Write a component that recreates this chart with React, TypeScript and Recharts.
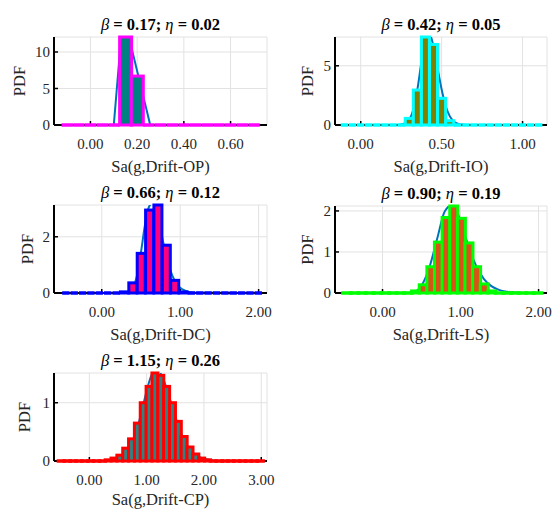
import React from 'react';
import { ComposedChart, Bar, Line, XAxis, YAxis, CartesianGrid } from 'recharts';

// bin centres (g) and histogram heights (PDF) for each demand parameter
const opBins = [-0.10, -0.05, 0.00, 0.05, 0.10, 0.15, 0.20, 0.25, 0.30, 0.35, 0.40, 0.45, 0.50, 0.55, 0.60, 0.65, 0.70];
const opHist = [0, 0, 0, 0, 0, 12.05, 6.7, 0, 0, 0, 0, 0, 0, 0, 0, 0, 0];
const opPdfX = [-0.12, 0.10, 0.14, 0.256, 0.72];
const opPdfY = [0, 0, 15.3, 0, 0];

const ioBins = [-0.10, -0.05, 0.00, 0.05, 0.10, 0.15, 0.20, 0.25, 0.30, 0.35, 0.40, 0.45, 0.50, 0.55, 0.60, 0.65, 0.70, 0.75, 0.80, 0.85, 0.90, 0.95, 1.00, 1.05, 1.10];
const ioHist = [0, 0, 0, 0, 0, 0, 0, 0, 0.56, 2.95, 7.43, 6.8, 2.25, 0.36, 0, 0, 0, 0, 0, 0, 0, 0, 0, 0, 0];
const ioPdfX = [-0.12, 0.22, 0.25, 0.275, 0.30, 0.325, 0.35, 0.375, 0.40, 0.425, 0.45, 0.475, 0.50, 0.525, 0.55, 0.575, 0.60, 0.625, 0.65, 1.12];
const ioPdfY = [0, 0, 0.05, 0.15, 0.45, 1.3, 3.0, 5.3, 7.2, 7.7, 6.6, 4.8, 3.0, 1.6, 0.75, 0.3, 0.12, 0.04, 0, 0];

const dcBins = [-0.456, -0.349, -0.242, -0.136, -0.029, 0.078, 0.185, 0.291, 0.398, 0.505, 0.612, 0.718, 0.825, 0.932, 1.038, 1.145, 1.252, 1.358, 1.465, 1.572, 1.678, 1.785, 1.892, 1.998];
const dcHist = [0, 0, 0, 0, 0, 0, 0, 0.04, 0.36, 1.41, 2.95, 3.13, 1.70, 0.45, 0.04, 0, 0, 0, 0, 0, 0, 0, 0, 0];
const dcPdfX = [-0.55, 0.25, 0.30, 0.35, 0.40, 0.45, 0.50, 0.55, 0.60, 0.65, 0.70, 0.75, 0.80, 0.85, 0.90, 0.95, 1.00, 1.05, 1.10, 1.20, 2.05];
const dcPdfY = [0, 0, 0.02, 0.06, 0.2, 0.62, 1.45, 2.4, 3.05, 3.2, 2.9, 2.25, 1.6, 1.02, 0.62, 0.35, 0.19, 0.1, 0.05, 0.01, 0];

const lsBins = [-0.459, -0.361, -0.263, -0.166, -0.068, 0.030, 0.128, 0.226, 0.323, 0.421, 0.519, 0.617, 0.714, 0.812, 0.910, 1.008, 1.105, 1.203, 1.301, 1.399, 1.497, 1.594, 1.692, 1.790, 1.888, 1.986];
const lsHist = [0, 0, 0, 0, 0, 0, 0, 0, 0, 0.05, 0.2, 0.64, 1.24, 1.84, 2.12, 1.82, 1.22, 0.64, 0.22, 0.05, 0, 0, 0, 0, 0, 0];
const lsPdfX = [-0.55, 0.30, 0.40, 0.50, 0.60, 0.70, 0.80, 0.90, 1.00, 1.10, 1.20, 1.30, 1.40, 1.50, 1.60, 1.70, 1.80, 2.05];
const lsPdfY = [0, 0, 0.02, 0.18, 0.62, 1.32, 2.0, 2.15, 1.75, 1.15, 0.66, 0.34, 0.16, 0.07, 0.03, 0.01, 0, 0];

const cpBins = [-0.489, -0.387, -0.285, -0.183, -0.081, 0.021, 0.123, 0.225, 0.327, 0.429, 0.531, 0.633, 0.735, 0.837, 0.939, 1.041, 1.143, 1.245, 1.347, 1.449, 1.551, 1.653, 1.755, 1.857, 1.959, 2.061, 2.163, 2.265, 2.367, 2.469, 2.571, 2.673, 2.775, 2.877, 2.979];
const cpHist = [0, 0, 0, 0, 0, 0, 0, 0, 0.02, 0.05, 0.10, 0.22, 0.38, 0.65, 1.0, 1.28, 1.51, 1.47, 1.28, 1.0, 0.68, 0.42, 0.24, 0.12, 0.05, 0.02, 0, 0, 0, 0, 0, 0, 0, 0, 0];
const cpPdfX = [-0.55, 0.20, 0.30, 0.40, 0.50, 0.60, 0.70, 0.80, 0.90, 1.00, 1.10, 1.20, 1.30, 1.40, 1.50, 1.60, 1.70, 1.80, 1.90, 2.00, 2.10, 2.20, 3.05];
const cpPdfY = [0, 0, 0.005, 0.02, 0.05, 0.11, 0.23, 0.45, 0.8, 1.2, 1.5, 1.55, 1.38, 1.08, 0.76, 0.48, 0.28, 0.15, 0.08, 0.04, 0.02, 0, 0];

const opTicks = [0, 0.2, 0.4, 0.6];
const ioTicks = [0, 0.5, 1];
const dcTicks = [0, 1, 2];
const lsTicks = [0, 1, 2];
const cpTicks = [0, 1, 2, 3];

const FONT = '"Liberation Serif", "Times New Roman", serif';
const PDF_BLUE = '#0072BD';

type Spec = {
  bins: number[]; hist: number[]; pdfX: number[]; pdfY: number[];
  xDomain: [number, number]; xTicks: number[]; yMax: number; yTicks: number[];
  fill: string; edge: string; dashed: boolean; curve: 'linear' | 'monotone';
  beta: string; eta: string; xLabel: string;
  left: number; top: number; w: number; h: number; mTop: number; mRight: number; yW: number;
  titleY: number; xLabelY: number; yLabelX: number;
};

const panels: Spec[] = [
  { bins: opBins, hist: opHist, pdfX: opPdfX, pdfY: opPdfY, xDomain: [-0.156, 0.756], xTicks: opTicks, yMax: 12.05, yTicks: [0, 5, 10],
    fill: '#008080', edge: '#ff00ff', dashed: true, curve: 'linear', beta: '0.17', eta: '0.02', xLabel: 'Sa(g,Drift-OP)',
    left: 0, top: 0, w: 276, h: 155, mTop: 37, mRight: 9, yW: 54, titleY: 30, xLabelY: 171.5, yLabelX: 19 },
  { bins: ioBins, hist: ioHist, pdfX: ioPdfX, pdfY: ioPdfY, xDomain: [-0.159, 1.151], xTicks: ioTicks, yMax: 7.43, yTicks: [0, 5],
    fill: '#808000', edge: '#00ffff', dashed: true, curve: 'monotone', beta: '0.42', eta: '0.05', xLabel: 'Sa(g,Drift-IO)',
    left: 276, top: 0, w: 276, h: 155, mTop: 37, mRight: 5, yW: 59, titleY: 30, xLabelY: 171.5, yLabelX: 307.7 },
  { bins: dcBins, hist: dcHist, pdfX: dcPdfX, pdfY: dcPdfY, xDomain: [-0.609, 2.107], xTicks: dcTicks, yMax: 3.13, yTicks: [0, 2],
    fill: '#ff0080', edge: '#0000ff', dashed: true, curve: 'monotone', beta: '0.66', eta: '0.12', xLabel: 'Sa(g,Drift-DC)',
    left: 0, top: 170, w: 276, h: 153, mTop: 35, mRight: 9, yW: 54, titleY: 198, xLabelY: 339.5, yLabelX: 27 },
  { bins: lsBins, hist: lsHist, pdfX: lsPdfX, pdfY: lsPdfY, xDomain: [-0.609, 2.108], xTicks: lsTicks, yMax: 2.12, yTicks: [0, 1, 2],
    fill: '#d95319', edge: '#00ff00', dashed: false, curve: 'monotone', beta: '0.90', eta: '0.19', xLabel: 'Sa(g,Drift-LS)',
    left: 276, top: 170, w: 276, h: 153, mTop: 36, mRight: 5, yW: 59, titleY: 199, xLabelY: 339.5, yLabelX: 307.7 },
  { bins: cpBins, hist: cpHist, pdfX: cpPdfX, pdfY: cpPdfY, xDomain: [-0.617, 3.10], xTicks: cpTicks, yMax: 1.51, yTicks: [0, 1],
    fill: '#2b8585', edge: '#ff0000', dashed: false, curve: 'monotone', beta: '1.15', eta: '0.26', xLabel: 'Sa(g,Drift-CP)',
    left: 0, top: 340, w: 276, h: 151, mTop: 33, mRight: 9, yW: 54, titleY: 366, xLabelY: 505, yLabelX: 24.5 },
];

// histogram bar with a thick coloured edge; empty bins show only the edge along the base
const histShape = (fill: string, edge: string, dashed: boolean) => (props: any) => {
  const { x, y, width, height } = props;
  if (!(height > 0.3)) {
    const base = y + (height || 0);
    return dashed
      ? <line x1={x + 0.3} x2={x + width - 0.3} y1={base} y2={base} stroke={edge} strokeWidth={3.5} />
      : <line x1={x} x2={x + width} y1={base} y2={base} stroke={edge} strokeWidth={3.5} strokeLinecap="square" />;
  }
  return <rect x={x} y={y} width={width} height={height} fill={fill} stroke={edge} strokeWidth={3} />;
};

const axisLine = { stroke: '#000', strokeWidth: 2 };
const tickLine = { stroke: '#000', strokeWidth: 1.5 };
const tickStyle = { fill: '#262626', fontSize: 15, fontFamily: FONT };

function Panel({ p }: { p: Spec }) {
  const bins = p.bins.map((x, i) => ({ x, h: p.hist[i] }));
  const pdf = p.pdfX.map((x, i) => ({ x, y: p.pdfY[i] }));
  return (
    <div style={{ position: 'absolute', left: p.left, top: p.top }}>
      <ComposedChart width={p.w} height={p.h} data={bins} barCategoryGap={0} barGap={0}
        margin={{ top: p.mTop, right: p.mRight, bottom: 0, left: 0 }}>
        <CartesianGrid stroke="#e2e2e2" />
        <XAxis dataKey="x" type="number" domain={p.xDomain} ticks={p.xTicks} interval={0} height={30}
          tickFormatter={(v: number) => v.toFixed(2)} tickSize={-4} tickMargin={17}
          axisLine={axisLine} tickLine={tickLine} tick={tickStyle} />
        <XAxis xAxisId="t" orientation="top" dataKey="x" type="number" domain={p.xDomain} ticks={p.xTicks}
          interval={0} height={0} tickSize={-4} tick={false} axisLine={axisLine} tickLine={tickLine} allowDataOverflow />
        <YAxis type="number" domain={[0, p.yMax]} ticks={p.yTicks} interval={0} width={p.yW}
          tickSize={-4} tickMargin={8} axisLine={axisLine} tickLine={tickLine} tick={tickStyle} />
        <YAxis yAxisId="r" orientation="right" type="number" domain={[0, p.yMax]} ticks={p.yTicks} interval={0}
          width={0} tickSize={-4} tick={false} axisLine={axisLine} tickLine={tickLine} allowDataOverflow />
        <Line xAxisId="t" yAxisId="r" data={pdf} dataKey="y" type={p.curve} stroke={PDF_BLUE} strokeWidth={2}
          dot={false} activeDot={false} isAnimationActive={false} zIndex={100} />
        <Bar dataKey="h" shape={histShape(p.fill, p.edge, p.dashed)} isAnimationActive={false} zIndex={600} />
      </ComposedChart>
    </div>
  );
}

export default function App() {
  return (
    <div style={{ position: 'absolute', left: 0, top: 0, width: 552, height: 512, background: '#fff' }}>
      {panels.map((p, i) => <Panel key={i} p={p} />)}
      <svg width={552} height={512} style={{ position: 'absolute', left: 0, top: 0, pointerEvents: 'none' }}>
        {panels.map((p, i) => {
          const cx = p.left + p.yW + (p.w - p.yW - p.mRight) / 2;
          const cy = p.top + p.mTop + (p.h - 30 - p.mTop) / 2;
          return (
            <g key={i} fontFamily={FONT}>
              <text x={cx} y={p.titleY} textAnchor="middle" fontSize={16.5} fontWeight="bold" fill="#000">
                <tspan fontStyle="italic" fontWeight="normal">β</tspan>
                {' = ' + p.beta + '; '}
                <tspan fontStyle="italic" fontWeight="normal">η</tspan>
                {' = ' + p.eta}
              </text>
              <text x={cx} y={p.xLabelY} textAnchor="middle" fontSize={16.5} fill="#262626">{p.xLabel}</text>
              <text x={p.yLabelX + 5.5} y={cy} textAnchor="middle" fontSize={16.5} fill="#262626"
                transform={`rotate(-90 ${p.yLabelX + 5.5} ${cy})`}>PDF</text>
            </g>
          );
        })}
      </svg>
    </div>
  );
}
